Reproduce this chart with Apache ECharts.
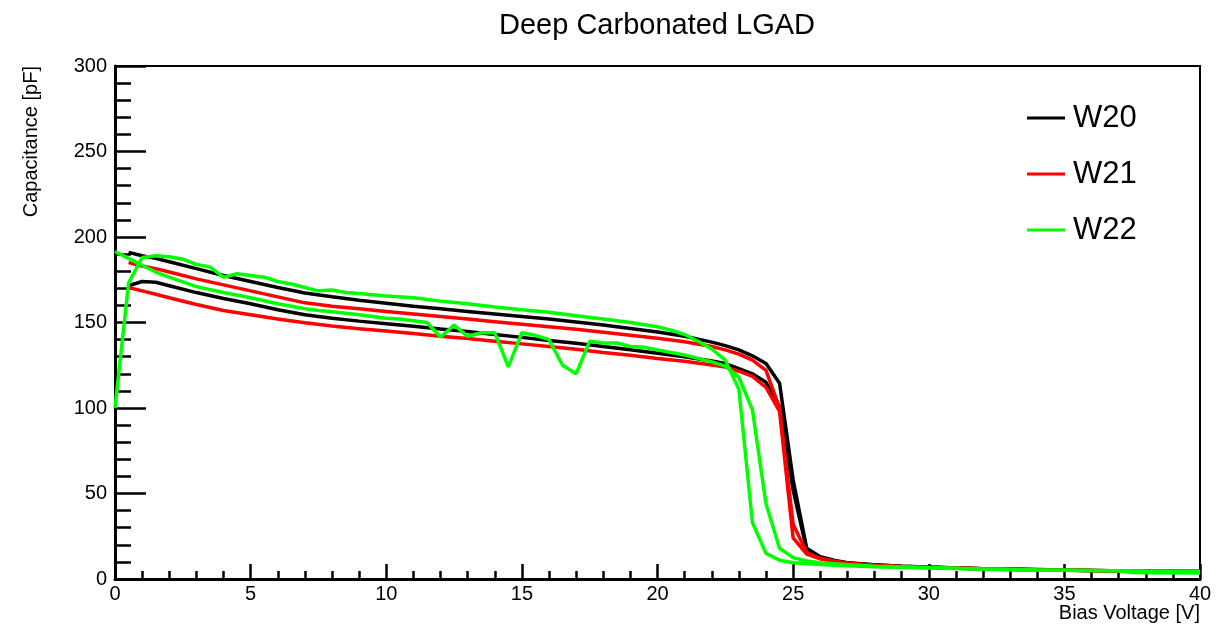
<!DOCTYPE html>
<html>
<head>
<meta charset="utf-8">
<script src="https://cdn.jsdelivr.net/npm/echarts@6/dist/echarts.min.js"></script>
<style>
  html, body { margin: 0; padding: 0; background: #fff; }
  #app { width: 1230px; height: 628px; }
</style>
</head>
<body>
<div id="app"></div>
<script>
// W20 - two pads
const vW20a = [0.5, 1, 1.5, 2, 3, 4, 5, 6, 7, 8, 9, 10, 11, 12, 13, 14, 15, 16, 17, 18, 19, 20, 21, 22, 22.5, 23, 23.5, 24, 24.5, 25, 25.5, 26, 26.5, 27, 28, 29, 30, 32, 34, 36, 38, 40]
const cW20a = [191, 189, 187.5, 185.5, 181.5, 177.5, 174, 170.5, 167.3, 165, 163, 161.3, 159.5, 158, 156.5, 155, 153.5, 152, 150.3, 148.5, 146.5, 144.5, 142, 138.5, 136.5, 134, 130.5, 126, 114.5, 58, 18, 13, 11, 9.5, 8.3, 7.5, 7, 6, 5.5, 5, 4.7, 4.5]
const vW20b = [0.5, 1, 1.5, 2, 3, 4, 5, 6, 7, 8, 9, 10, 11, 12, 13, 14, 15, 16, 17, 18, 19, 20, 21, 22, 22.5, 23, 23.5, 24, 24.5, 25, 25.5, 26, 26.5, 27, 28, 29, 30, 32, 34, 36, 38, 40]
const cW20b = [171.5, 174, 173.5, 171.5, 167.5, 164, 161, 157.5, 154.5, 152.5, 150.8, 149.3, 147.8, 146.2, 144.8, 143, 141.3, 139.5, 137.8, 136, 134, 132, 130, 127.5, 126, 123, 120, 115, 101, 52, 17, 12.5, 10.5, 9.3, 8.2, 7.4, 6.9, 6, 5.4, 5, 4.6, 4.4]

// W21 - two pads
const vW21a = [0.5, 1, 1.5, 2, 3, 4, 5, 6, 7, 8, 9, 10, 11, 12, 13, 14, 15, 16, 17, 18, 19, 20, 21, 22, 22.5, 23, 23.5, 24, 24.5, 25, 25.5, 26, 26.5, 27, 28, 29, 30, 32, 34, 36, 38, 40]
const cW21a = [185, 183, 181.5, 179.5, 175.5, 172, 168.5, 165, 161.5, 159.5, 158, 156.5, 155, 153.5, 152, 150.5, 149, 147.5, 146, 144.3, 142.5, 140.8, 138.8, 136, 134, 131.5, 128, 122, 100, 32, 15.5, 12, 10.5, 9.2, 8, 7.3, 6.8, 6, 5.4, 5, 4.6, 4.4]
const vW21b = [0.5, 1, 1.5, 2, 3, 4, 5, 6, 7, 8, 9, 10, 11, 12, 13, 14, 15, 16, 17, 18, 19, 20, 21, 22, 22.5, 23, 23.5, 24, 24.5, 25, 25.5, 26, 26.5, 27, 28, 29, 30, 32, 34, 36, 38, 40]
const cW21b = [170.5, 168.5, 166.5, 164.5, 160.5, 157, 154.5, 152, 149.8, 148, 146.3, 145, 143.5, 142, 140.6, 139, 137.5, 136, 134.3, 132.5, 130.8, 129, 127.3, 125.2, 124, 121.5, 118.5, 112, 98, 24, 14.5, 11.8, 10.3, 9, 7.9, 7.2, 6.7, 5.9, 5.3, 4.9, 4.5, 4.3]

// W22 - two pads
const vW22a = [0, 0.5, 1, 1.5, 2, 3, 4, 5, 6, 7, 7.5, 8, 9, 10, 10.5, 11, 11.5, 12, 12.5, 13, 13.5, 14, 14.5, 15, 15.5, 16, 16.5, 17, 17.5, 18, 18.5, 19, 19.5, 20, 20.5, 21, 21.5, 22, 22.5, 23, 23.5, 24, 24.5, 25, 25.5, 26, 27, 28, 30, 32, 34, 36, 37, 37.5, 38, 40]
const cW22a = [191.5, 187.5, 183.5, 179.5, 176.5, 171, 167.5, 164.5, 161, 158, 157, 156.3, 154.5, 152.5, 152, 151, 150, 141.5, 148.5, 142, 144, 144, 124, 144, 142.5, 140, 125, 120, 139, 138, 138, 136, 135.5, 134, 132.5, 131, 129, 127, 124.5, 118, 99, 44, 18, 12.5, 10.5, 9.5, 8.3, 7.5, 6.7, 5.8, 5.3, 4.9, 4.8, 3.8, 3.6, 3.5]
const vW22b = [0, 0.5, 1, 1.5, 2, 2.5, 3, 3.5, 4, 4.5, 5, 5.5, 6, 6.5, 7, 7.5, 8, 8.5, 9, 10, 11, 12, 13, 14, 15, 16, 17, 18, 19, 20, 20.5, 21, 21.5, 22, 22.5, 23, 23.5, 24, 24.5, 25, 26, 27, 28, 30, 32, 34, 36, 38, 40]
const cW22b = [100, 173, 188, 189, 188.5, 187, 184, 182.5, 176.5, 178.5, 177.5, 176.5, 174, 172.5, 170.5, 168.5, 169, 167.5, 167, 165.5, 164.5, 162.5, 161, 159, 157.5, 156, 154, 152, 150, 147.5, 145.5, 143, 139, 134.5, 128, 111, 33, 15, 11, 9.5, 8.5, 7.8, 7.2, 6.5, 5.8, 5.3, 5, 4.7, 4.5]

const names = ['W20', 'W21', 'W22']
const colors = ['#000000', '#ff0000', '#00ff00']

function pairs(v, c) {
  return v.map((x, i) => [x, c[i]])
}

const curves = [
  { name: 'W20', color: colors[0], data: pairs(vW20a, cW20a) },
  { name: 'W20', color: colors[0], data: pairs(vW20b, cW20b) },
  { name: 'W21', color: colors[1], data: pairs(vW21a, cW21a) },
  { name: 'W21', color: colors[1], data: pairs(vW21b, cW21b) },
  { name: 'W22', color: colors[2], data: pairs(vW22a, cW22a) },
  { name: 'W22', color: colors[2], data: pairs(vW22b, cW22b) },
]

const font = 'Liberation Sans, Helvetica, Arial, sans-serif'
const myChart = echarts.init(document.getElementById('app'))
myChart.setOption({
  animation: false,
  backgroundColor: '#fff',
  title: {
    text: 'Deep Carbonated LGAD',
    left: 652,
    top: 6,
    textAlign: 'center',
    textStyle: { fontFamily: font, fontSize: 29, fontWeight: 'normal', color: '#000' },
  },
  legend: {
    data: names,
    orient: 'vertical',
    left: 1027,
    top: 102,
    padding: 0,
    icon: 'rect',
    itemWidth: 38,
    itemHeight: 3,
    itemGap: 24,
    textStyle: { fontFamily: font, fontSize: 31, lineHeight: 32, color: '#000', padding: [0, 0, 0, 3] },
  },
  grid: {
    left: 115,
    top: 66,
    width: 1085,
    height: 513,
    show: true,
    borderColor: '#000',
    borderWidth: 2,
    backgroundColor: '#fff',
  },
  xAxis: {
    type: 'value',
    min: 0,
    max: 40,
    interval: 5,
    axisLine: { onZero: false, lineStyle: { color: '#000', width: 3 } },
    axisTick: { inside: true, length: 15, lineStyle: { color: '#000', width: 2.5 } },
    minorTick: { show: true, splitNumber: 5, length: 8, lineStyle: { color: '#000', width: 2.5 } },
    splitLine: { show: false },
    axisLabel: { margin: 5, fontFamily: font, fontSize: 20, color: '#000' },
  },
  yAxis: {
    type: 'value',
    min: 0,
    max: 300,
    interval: 50,
    axisLine: { show: true, onZero: false, lineStyle: { color: '#000', width: 3 } },
    axisTick: { show: true, inside: true, length: 31, lineStyle: { color: '#000', width: 2.5 } },
    minorTick: { show: true, splitNumber: 5, length: 16, lineStyle: { color: '#000', width: 2.5 } },
    splitLine: { show: false },
    axisLabel: { margin: 8, fontFamily: font, fontSize: 20, color: '#000' },
  },
  graphic: [
    {
      type: 'text',
      x: 1200,
      y: 613,
      style: { text: 'Bias Voltage [V]', font: '20px ' + font, fill: '#000', align: 'right', verticalAlign: 'middle' },
    },
    {
      type: 'text',
      x: 31,
      y: 66,
      rotation: Math.PI / 2,
      style: { text: 'Capacitance [pF]', font: '20px ' + font, fill: '#000', align: 'right', verticalAlign: 'middle' },
    },
  ],
  series: curves.map((c) => ({
    name: c.name,
    type: 'line',
    symbol: 'none',
    smooth: false,
    clip: true,
    lineStyle: { width: 3.5, color: c.color },
    itemStyle: { color: c.color },
    data: c.data,
  })),
})
</script>
</body>
</html>
